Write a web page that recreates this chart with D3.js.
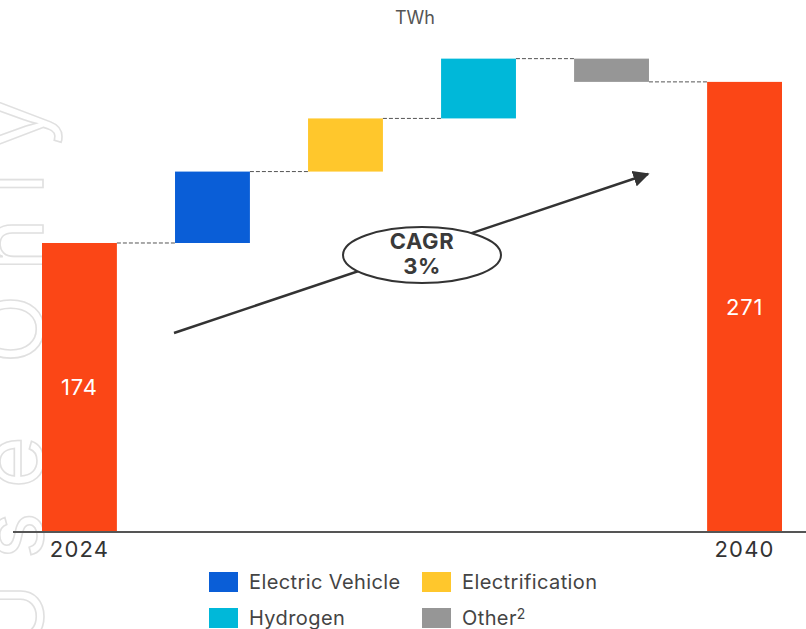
<!DOCTYPE html>
<html>
<head>
<meta charset="utf-8">
<script src="https://cdn.jsdelivr.net/npm/d3@7"></script>
<style>
  html, body { margin: 0; padding: 0; background: #fff; }
  svg { display: block; font-family: Inter, "Open Sans", sans-serif; }
</style>
</head>
<body>
<svg id="chart" width="806" height="629"></svg>
<script>
// Waterfall: electricity demand bridge 2024 -> 2040 (TWh)
const categories = ["2024", "Electric Vehicle", "Electrification", "Hydrogen", "Other", "2040"];
const kinds      = ["total", "delta", "delta", "delta", "delta", "total"];
const values     = [174, 43, 32, 36, -14, 271];
const colors     = ["#FB4616", "#0A5ED7", "#FFC72C", "#00B8D9", "#969696", "#FB4616"];
const axisLabels = ["2024", "", "", "", "", "2040"];
const legendItems = [
  { name: "Electric Vehicle", sup: "", color: "#0A5ED7" },
  { name: "Electrification", sup: "", color: "#FFC72C" },
  { name: "Hydrogen", sup: "", color: "#00B8D9" },
  { name: "Other", sup: "2", color: "#969696" }
];
const unitLabel = "TWh";
const cagrLines = ["CAGR", "3%"];

// running start/end of each step
let running = 0;
const steps = categories.map((c, i) => {
  let y0, y1;
  if (kinds[i] === "total") { y0 = 0; y1 = values[i]; running = values[i]; }
  else { y0 = running; y1 = running + values[i]; running = y1; }
  return { cat: c, kind: kinds[i], value: values[i], y0, y1, color: colors[i], label: axisLabels[i] };
});

const svg = d3.select("#chart");

const x = d3.scaleBand().domain(categories).range([42, 782]).paddingInner(0.437).paddingOuter(0);
const y = d3.scaleLinear().domain([0, 320]).range([532, 0.5]);

// faint outlined watermark running up the left edge
svg.append("g")
  .attr("transform", "translate(43,650) rotate(-90)")
  .append("text")
  .attr("x", 0).attr("y", 0)
  .attr("textLength", 552)
  .attr("lengthAdjust", "spacing")
  .style("font-family", "Inter, sans-serif")
  .style("font-size", "90px")
  .style("font-weight", 400)
  .attr("fill", "none")
  .attr("stroke", "#e0e0e0")
  .attr("stroke-width", 1.6)
  .text("Use Only");

// unit label
svg.append("text")
  .attr("x", 415).attr("y", 24)
  .attr("text-anchor", "middle")
  .attr("fill", "#555")
  .style("font-size", "18px")
  .text(unitLabel);

// connectors between consecutive bars
svg.append("g").selectAll("line")
  .data(steps.slice(0, -1))
  .join("line")
  .attr("x1", d => x(d.cat) + x.bandwidth())
  .attr("x2", (d, i) => x(steps[i + 1].cat))
  .attr("y1", d => y(d.y1))
  .attr("y2", d => y(d.y1))
  .attr("stroke", "#555")
  .attr("stroke-width", 1)
  .attr("stroke-dasharray", "4,2");

// bars
svg.append("g").selectAll("rect")
  .data(steps)
  .join("rect")
  .attr("x", d => x(d.cat))
  .attr("width", x.bandwidth())
  .attr("y", d => y(Math.max(d.y0, d.y1)))
  .attr("height", d => Math.abs(y(d.y0) - y(d.y1)))
  .attr("fill", d => d.color);

// value labels on total bars
svg.append("g").selectAll("text")
  .data(steps.filter(d => d.kind === "total"))
  .join("text")
  .attr("x", d => x(d.cat) + x.bandwidth() / 2)
  .attr("y", d => (y(d.y0) + y(d.y1)) / 2)
  .attr("dy", "0.35em")
  .attr("text-anchor", "middle")
  .attr("fill", "#fff")
  .style("font-size", "22px")
  .style("letter-spacing", "0.8px")
  .text(d => d.value);

// baseline axis
const axis = svg.append("g")
  .attr("transform", `translate(0,${y(0)})`)
  .call(d3.axisBottom(x).tickSize(0).tickPadding(9).tickFormat((c, i) => axisLabels[i]));
axis.select(".domain").remove();
axis.append("line")
  .attr("x1", 13).attr("x2", 806)
  .attr("stroke", "#555").attr("stroke-width", 2);
axis.selectAll(".tick text")
  .attr("fill", "#333")
  .style("font-family", "Inter, sans-serif")
  .style("font-size", "22px")
  .style("letter-spacing", "1.2px");

// CAGR arrow
const defs = svg.append("defs");
defs.append("marker")
  .attr("id", "arrowhead")
  .attr("viewBox", "0 0 10 10")
  .attr("refX", 9).attr("refY", 5)
  .attr("markerWidth", 6.5).attr("markerHeight", 6.5)
  .attr("markerUnits", "strokeWidth")
  .attr("orient", "auto")
  .append("path")
  .attr("d", "M0,0 L10,5 L0,10 z")
  .attr("fill", "#333");

svg.append("line")
  .attr("x1", 174).attr("y1", 333)
  .attr("x2", 648).attr("y2", 174)
  .attr("stroke", "#333")
  .attr("stroke-width", 2.5)
  .attr("marker-end", "url(#arrowhead)");

const badge = svg.append("g").attr("transform", "translate(422,255)");
badge.append("ellipse")
  .attr("rx", 79).attr("ry", 28)
  .attr("fill", "#fff")
  .attr("stroke", "#333")
  .attr("stroke-width", 2);
badge.selectAll("text")
  .data(cagrLines)
  .join("text")
  .attr("x", 0)
  .attr("y", (d, i) => i === 0 ? -6 : 19)
  .attr("text-anchor", "middle")
  .attr("fill", "#3a3a3a")
  .style("font-size", "22px")
  .style("font-weight", 700)
  .style("letter-spacing", "0.6px")
  .text(d => d);

// legend, two columns
const legend = svg.append("g").selectAll("g")
  .data(legendItems)
  .join("g")
  .attr("transform", (d, i) => `translate(${i % 2 === 0 ? 209 : 422},${i < 2 ? 572 : 608})`);
legend.append("rect")
  .attr("width", 29).attr("height", 20)
  .attr("fill", d => d.color);
const lt = legend.append("text")
  .attr("x", 40).attr("y", 10)
  .attr("dy", "0.35em")
  .attr("fill", "#444")
  .style("font-size", "20px")
  .style("letter-spacing", "0.4px");
lt.append("tspan").text(d => d.name);
lt.append("tspan")
  .attr("dy", "-0.45em")
  .style("font-size", "14px")
  .text(d => d.sup);
</script>
</body>
</html>
